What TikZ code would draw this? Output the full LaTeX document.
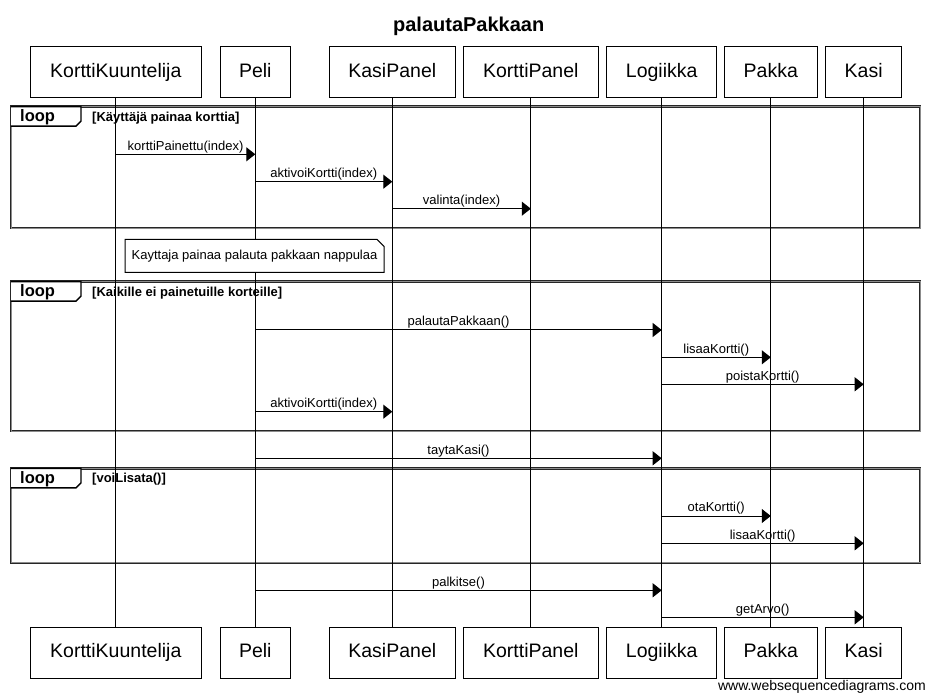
\documentclass[tikz,border=0pt]{standalone}
\usepackage{fontspec}
\setmainfont{Liberation Sans}
\usetikzlibrary{arrows.meta}
\newcommand\msgfont{\fontsize{13}{15}\selectfont}
\newcommand\actorfont{\fontsize{19.5}{22}\selectfont}
\begin{document}
\begin{tikzpicture}[x=1pt,y=-1pt,
  actor/.style={draw,line width=1pt,minimum height=50.5pt,inner sep=0pt,
    text height=14pt,text depth=4pt,font=\actorfont},
  msg/.style={draw,line width=1pt,-{Triangle[length=9pt,width=14pt]}},
  loopframe/.style={draw=black!85,line width=0.9pt,double=black!45,double distance=0.6pt},
  looptab/.style={draw,fill=white,line width=1.4pt},
  notebox/.style={draw,fill=white,line width=1pt}]
\useasboundingbox (0,0) rectangle (929,700);

\node[anchor=base,font=\bfseries\fontsize{20}{24}\selectfont] (title) at (468.7,31.7) {palautaPakkaan};

% loop frames
\foreach \t/\b/\g [count=\i] in {106.7/228.3/{[Käyttäjä painaa korttia]},
    281.7/431/{[Kaikille ei painetuille korteille]},
    468.3/562.7/{[voiLisata()]}}{
    \draw[loopframe] (11,\t) rectangle (920,\b);
    \draw[looptab] (11,\t) -- (81,\t) -- (81,\t+14.5) -- (76,\t+19.5) -- (11,\t+19.5);
    \node[anchor=base west,inner sep=0pt,font=\bfseries\fontsize{16.5}{18}\selectfont] (loop\i) at (20,\t+15) {loop};
    \node[anchor=base west,inner sep=0pt,font=\bfseries\msgfont] (guard\i) at (92,\t+14.5) {\g};
}

% participants and lifelines
\foreach \n/\x/\w/\t in {kk/115.8/171/KorttiKuuntelija, peli/255.3/70/Peli,
    kasipanel/392.3/126/KasiPanel, korttipanel/530.8/135/KorttiPanel,
    logiikka/661.7/110/Logiikka, pakka/770.8/93/Pakka, kasi/863.7/76/Kasi}{
    \node[actor,minimum width=\w] (\n) at (\x,72.2) {\t};
    \node[actor,minimum width=\w] (\n2) at (\x,652.8) {\t};
    \draw[line width=1pt] (\n) -- (\n2);
}

% note
\draw[notebox] (125,239.3) -- (377,239.3) -- (384,246.3) -- (384,272.3) -- (125,272.3) -- cycle;
\node[font=\msgfont,inner sep=0pt] (hint) at (254.5,256) {Kayttaja painaa palauta pakkaan nappulaa};

% messages
\foreach \y/\a/\b/\t in {154.3/kk/peli/korttiPainettu(index),
    181.7/peli/kasipanel/aktivoiKortti(index),
    208.7/kasipanel/korttipanel/valinta(index),
    330/peli/logiikka/palautaPakkaan(),
    357.3/logiikka/pakka/lisaaKortti(),
    384.3/logiikka/kasi/poistaKortti(),
    411.7/peli/kasipanel/aktivoiKortti(index),
    458.3/peli/logiikka/taytaKasi(),
    516/logiikka/pakka/otaKortti(),
    543.3/logiikka/kasi/lisaaKortti(),
    590.3/peli/logiikka/palkitse(),
    617.3/logiikka/kasi/getArvo()}{
    \draw[msg] (\a |- 0,\y) -- (\b |- 0,\y) node[midway,above=1pt,inner sep=0pt,font=\msgfont]{\t};
}

\node[anchor=base east,inner sep=0pt,font=\fontsize{14}{16}\selectfont] (site) at (926,690) {www.websequencediagrams.com};
\end{tikzpicture}
\end{document}
